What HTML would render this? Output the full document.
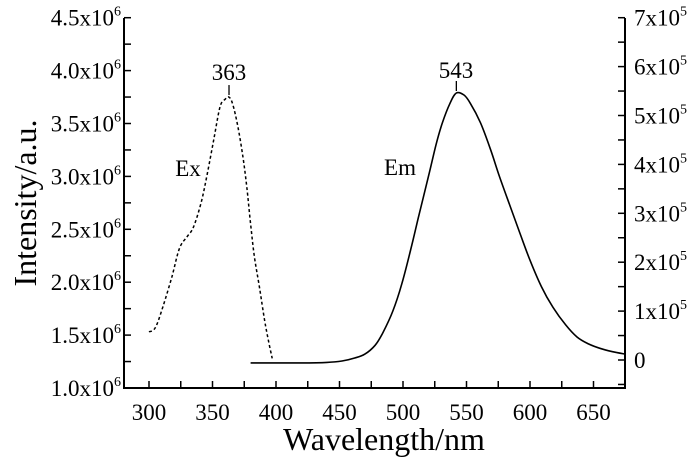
<!DOCTYPE html>
<html><head><meta charset="utf-8"><style>
body{margin:0;background:#fff}
svg{display:block;font-family:"Liberation Serif",serif}
</style></head><body>
<svg id="c" width="700" height="462" viewBox="0 0 700 462"></svg>
<script>
const xTicks=[300,350,400,450,500,550,600,650];
const leftTicks=[1.0,1.5,2.0,2.5,3.0,3.5,4.0,4.5];
const rightTicks=[0,1,2,3,4,5,6,7];
const exW=[300,305,311,318,324,330,335,341,346,351,356,360,363,366,370,374,377,380,383,387,391,394,397];
const exV=[1.53,1.57,1.77,2.05,2.32,2.43,2.52,2.75,3.03,3.35,3.66,3.73,3.75,3.68,3.47,3.18,2.9,2.55,2.24,1.95,1.64,1.45,1.28];
const emW=[380,400,420,440,452,462,470,478,484,492,499,506,512,520,526,531,537,542,548,553,561,569,576,584,592,600,609,618,628,637,646,655,665,675];
const emV=[-0.06,-0.06,-0.06,-0.05,-0.02,0.04,0.12,0.3,0.55,1.0,1.55,2.25,2.9,3.75,4.4,4.85,5.25,5.46,5.42,5.25,4.85,4.3,3.75,3.17,2.6,2.04,1.5,1.08,0.72,0.47,0.33,0.24,0.17,0.12];
const NS='http://www.w3.org/2000/svg';
const svg=document.getElementById('c');
const L=124,R=625,B=388,T=18;
const X=w=>149+(w-300)*1.27;
const YL=v=>388-(v-1.0)*105.8;
const YR=v=>360-v*48.9;
function el(t,a,p){const e=document.createElementNS(NS,t);for(const k in a)e.setAttribute(k,a[k]);(p||svg).appendChild(e);return e;}
function spline(pts){let d='M'+pts[0][0].toFixed(1)+','+pts[0][1].toFixed(1);
 for(let i=0;i<pts.length-1;i++){const p0=pts[i-1]||pts[i],p1=pts[i],p2=pts[i+1],p3=pts[i+2]||p2;
  const c1=[p1[0]+(p2[0]-p0[0])/6,p1[1]+(p2[1]-p0[1])/6],c2=[p2[0]-(p3[0]-p1[0])/6,p2[1]-(p3[1]-p1[1])/6];
  d+=`C${c1[0].toFixed(1)},${c1[1].toFixed(1)} ${c2[0].toFixed(1)},${c2[1].toFixed(1)} ${p2[0].toFixed(1)},${p2[1].toFixed(1)}`;}
 return d;}
let e;
e=el('path',{d:`M${L},${T}V${B}H${R}V${T}`,fill:'none',stroke:'#000','stroke-width':2});


for(let w=275;w<=675;w+=25){if(X(w)<=L||X(w)>=R)continue;const mj=w%50===0;
 el('line',{x1:X(w),x2:X(w),y1:B,y2:B-7,stroke:'#000','stroke-width':1.5});}
xTicks.forEach(w=>{e=el('text',{x:X(w),y:B+32,'text-anchor':'middle','font-size':23});e.textContent=w;
 
 });
for(let v=1.0;v<=4.51;v+=0.25){el('line',{x1:L,x2:L+7,y1:YL(v),y2:YL(v),stroke:'#000','stroke-width':1.5});}
leftTicks.forEach(v=>{e=el('text',{x:L-3,y:YL(v)+8,'text-anchor':'end','font-size':23});
 e.innerHTML=v.toFixed(1)+'x10<tspan font-size="14" dy="-10">6</tspan>';
 
 });
for(let v=-0.5;v<=7.01;v+=0.5){el('line',{x1:R,x2:R-7,y1:YR(v),y2:YR(v),stroke:'#000','stroke-width':1.5});}
rightTicks.forEach(v=>{e=el('text',{x:R+9,y:YR(v)+8,'font-size':23});
 e.innerHTML=v===0?'0':v+'x10<tspan font-size="14" dy="-10">5</tspan>';
 
 });
e=el('path',{d:spline(exW.map((w,i)=>[X(w),YL(exV[i])])),fill:'none',stroke:'#000','stroke-width':1.5,'stroke-dasharray':'3,2.5'});


e=el('path',{d:spline(emW.map((w,i)=>[X(w),YR(emV[i])])),fill:'none',stroke:'#000','stroke-width':1.6,'stroke-linejoin':'round'});


el('line',{x1:X(363),x2:X(363),y1:YL(3.75)-2,y2:YL(3.75)-12,stroke:'#000','stroke-width':1.3});
el('line',{x1:X(542),x2:X(542),y1:YR(5.46)-2,y2:YR(5.46)-12,stroke:'#000','stroke-width':1.3});
const lab=(x,y,t,n,fs)=>{const q=el('text',{x:x,y:y,'text-anchor':'middle','font-size':fs||23});q.textContent=t;
 
 return q;};
lab(229,80,'363','ex-peak-label');
lab(456,78,'543','em-peak-label');
lab(188,176,'Ex','ex-label');
lab(400,175,'Em','em-label');
lab(384,450,'Wavelength/nm','x-axis-title',32);
e=el('text',{x:0,y:0,'text-anchor':'middle','font-size':32,transform:'translate(36,203) rotate(-90)'});
e.textContent='Intensity/a.u.';


</script>
</body></html>
